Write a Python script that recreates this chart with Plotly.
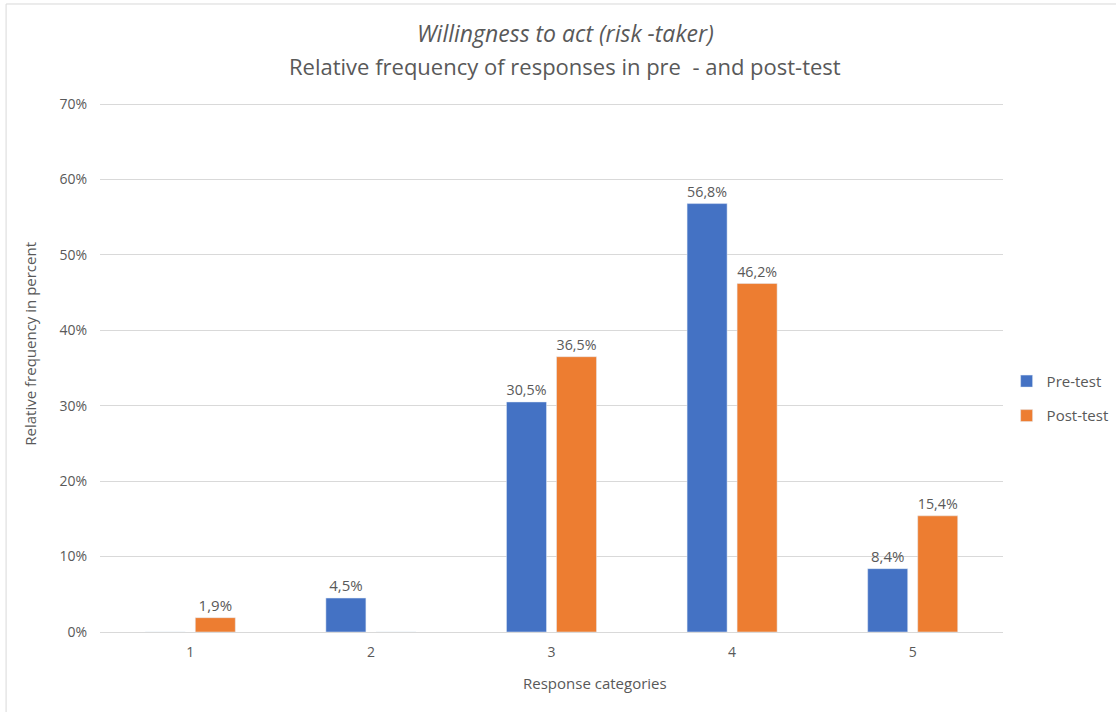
import plotly.graph_objects as go

categories = ["1", "2", "3", "4", "5"]
pre_test = [0.0, 4.5, 30.5, 56.8, 8.4]
post_test = [1.9, 0.0, 36.5, 46.2, 15.4]
y_ticks = [0, 10, 20, 30, 40, 50, 60, 70]

FONT = "Open Sans, sans-serif"
GREY = "#595959"


def labels(vals):
    # Excel leaves empty categories unlabeled, decimals with comma
    return [("%.1f%%" % v).replace(".", ",") if v > 0 else "" for v in vals]


fig = go.Figure()
fig.add_trace(go.Bar(x=categories, y=pre_test, name="Pre-test", marker_color="#4472C4",
                     legendgroup="pre", text=labels(pre_test), textposition="outside",
                     cliponaxis=False, textfont=dict(size=15, color=GREY)))
fig.add_trace(go.Bar(x=categories, y=post_test, name="Post-test", marker_color="#ED7D31",
                     legendgroup="post", text=labels(post_test), textposition="outside",
                     cliponaxis=False, textfont=dict(size=15, color=GREY)))

fig.update_layout(
    width=1116, height=712,
    margin=dict(l=100, r=113, t=101, b=80, autoexpand=False),
    paper_bgcolor="white", plot_bgcolor="white",
    font=dict(family=FONT, color=GREY, size=14),
    bargap=0.446, bargroupgap=0.2,
    showlegend=True,
    legend=dict(x=1.004, xanchor="left", y=0.44, yanchor="middle",
                font=dict(size=15, color=GREY), itemwidth=30, tracegroupgap=12),
)
fig.update_xaxes(showgrid=False, showline=False, ticks="", tickfont=dict(size=14, color=GREY),
                 ticklabelstandoff=10)
fig.update_yaxes(range=[0, 70.4], tickvals=y_ticks, ticktext=[f"{t}%" for t in y_ticks],
                 showgrid=True, gridcolor="#D9D9D9", gridwidth=1, zeroline=True,
                 zerolinecolor="#D9D9D9", zerolinewidth=1,
                 tickfont=dict(size=14, color=GREY), ticklabelstandoff=12)

# two-line title, first line italic (positions in paper units of the plot area)
fig.add_annotation(text="<i>Willingness to act (risk -taker)</i>", xref="paper", yref="paper",
                   x=0.515, y=1.1287, xanchor="center", yanchor="middle", showarrow=False,
                   font=dict(size=23, color=GREY))
fig.add_annotation(text="Relative frequency of responses in pre  - and post-test", xref="paper",
                   yref="paper", x=0.515, y=1.0666, xanchor="center", yanchor="middle",
                   showarrow=False, font=dict(size=22, color=GREY))

# axis titles positioned like the source chart
fig.add_annotation(text="Relative frequency in percent", textangle=-90, xref="paper", yref="paper",
                   x=-0.0775, y=0.543, xanchor="center", yanchor="middle", showarrow=False,
                   font=dict(size=15, color=GREY))
fig.add_annotation(text="Response categories", xref="paper", yref="paper",
                   x=0.548, y=-0.096, xanchor="center", yanchor="middle", showarrow=False,
                   font=dict(size=15, color=GREY))

# light chart border
fig.add_shape(type="rect", xref="paper", yref="paper", x0=-0.104, x1=1.2, y0=-0.2, y1=1.1827,
              line=dict(color="#D9D9D9", width=1), layer="below")

fig.write_html("out.html", config={"displayModeBar": False},
               post_script="document.body.style.margin='0';")
